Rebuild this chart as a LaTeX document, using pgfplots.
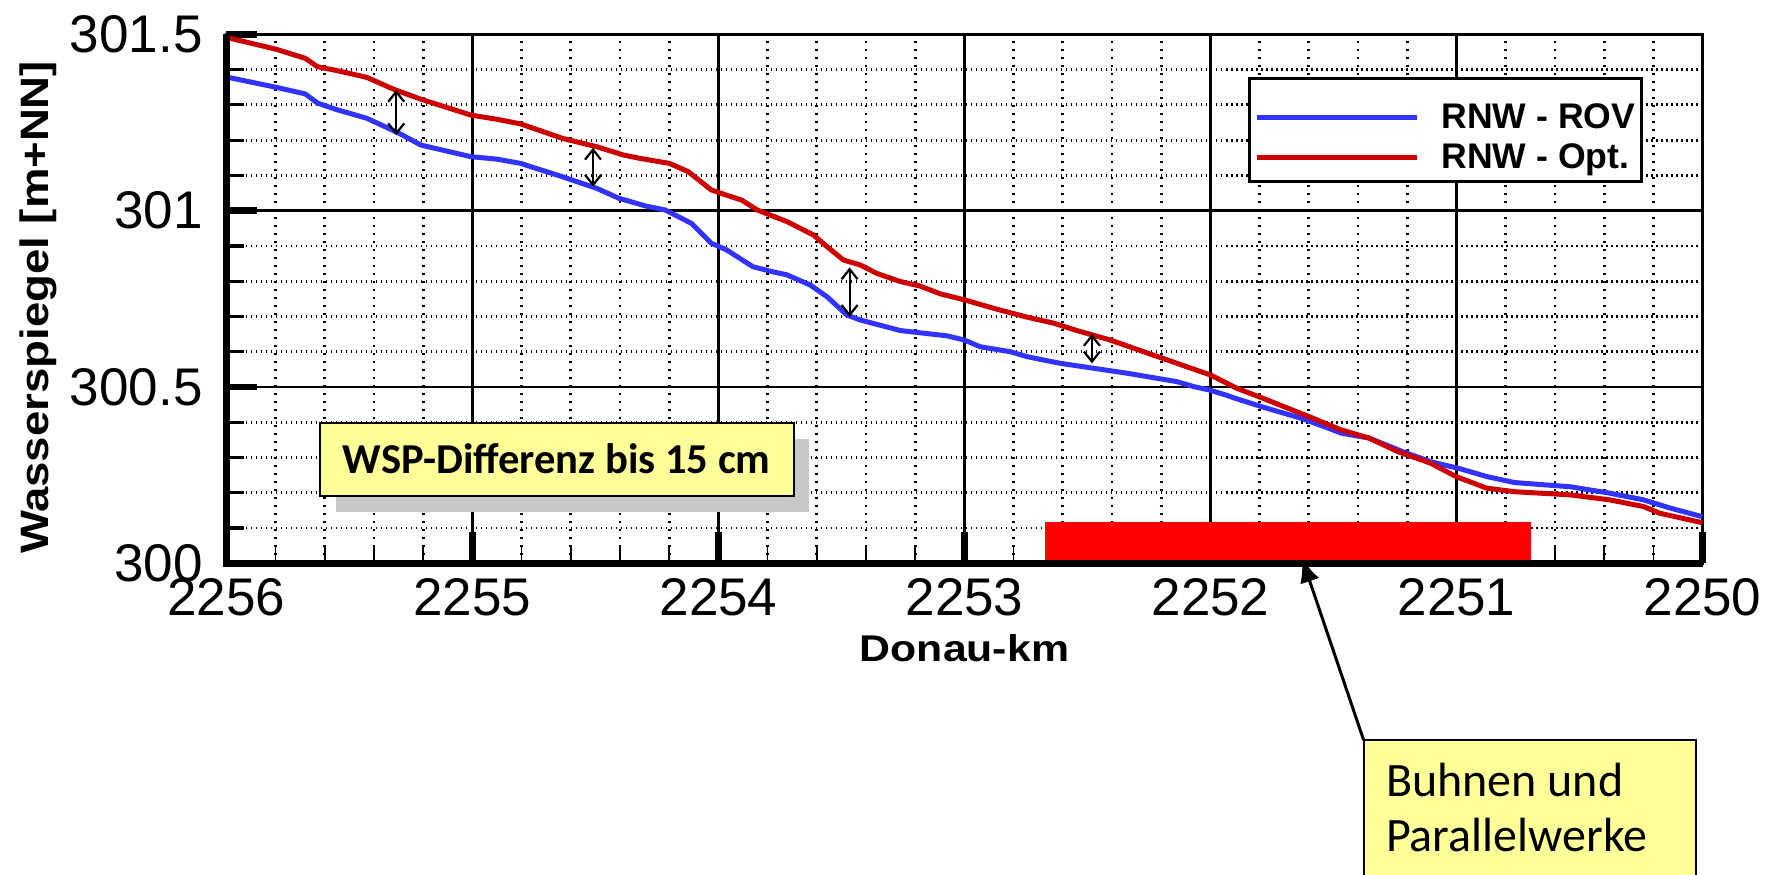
\documentclass[border=0pt]{standalone}
\usepackage{fontspec}
\setmainfont{Liberation Sans}
\newfontfamily\calibri{Carlito}
\newfontfamily\widebold[FakeStretch=1.15]{Liberation Sans Bold}
\usepackage{pgfplots}
\pgfplotsset{compat=1.18}
\usepackage{pgfplotstable}
\usetikzlibrary{arrows.meta}
\definecolor{rovblue}{RGB}{51,51,255}
\definecolor{optred}{RGB}{204,0,0}
\definecolor{noteyellow}{RGB}{255,255,153}
\definecolor{shadowgray}{RGB}{200,200,200}

\pgfplotstableread{
km val
2256.000 301.378
2255.987 301.377
2255.800 301.350
2255.680 301.331
2255.630 301.305
2255.550 301.286
2255.430 301.262
2255.300 301.220
2255.210 301.186
2255.007 301.153
2254.900 301.146
2254.805 301.134
2254.634 301.096
2254.494 301.063
2254.405 301.035
2254.295 301.013
2254.217 301.002
2254.110 300.964
2254.030 300.908
2253.968 300.889
2253.860 300.841
2253.782 300.827
2253.722 300.818
2253.627 300.789
2253.559 300.756
2253.478 300.704
2253.424 300.690
2253.261 300.660
2253.071 300.645
2253.000 300.633
2252.936 300.614
2252.814 300.600
2252.746 300.586
2252.610 300.567
2252.475 300.553
2252.339 300.539
2252.136 300.515
2252.068 300.501
2252.002 300.491
2251.932 300.476
2251.900 300.468
2251.787 300.443
2251.630 300.411
2251.536 300.387
2251.468 300.369
2251.355 300.355
2251.220 300.317
2251.105 300.288
2250.990 300.269
2250.877 300.246
2250.764 300.229
2250.537 300.217
2250.378 300.199
2250.240 300.180
2250.128 300.156
2250.000 300.132
}\rov

\pgfplotstableread{
km val
2256.000 301.492
2255.987 301.489
2255.800 301.458
2255.680 301.432
2255.630 301.408
2255.550 301.397
2255.430 301.378
2255.320 301.344
2255.210 301.316
2255.007 301.271
2254.900 301.259
2254.805 301.246
2254.634 301.205
2254.494 301.181
2254.388 301.158
2254.326 301.149
2254.200 301.134
2254.124 301.111
2254.030 301.059
2253.968 301.044
2253.906 301.030
2253.843 301.002
2253.722 300.969
2253.614 300.931
2253.559 300.898
2253.492 300.860
2253.424 300.846
2253.356 300.822
2253.261 300.799
2253.180 300.786
2253.098 300.764
2253.000 300.747
2252.881 300.723
2252.746 300.698
2252.638 300.681
2252.543 300.660
2252.407 300.633
2252.272 300.600
2252.136 300.567
2252.000 300.534
2251.892 300.496
2251.787 300.468
2251.582 300.411
2251.468 300.378
2251.355 300.355
2251.240 300.317
2251.105 300.284
2251.002 300.246
2250.877 300.213
2250.764 300.203
2250.537 300.194
2250.378 300.180
2250.240 300.161
2250.174 300.142
2250.000 300.115
}\opt

\begin{document}
\begin{tikzpicture}
\begin{axis}[
  at={(0pt,0pt)}, anchor=south west, scale only axis,
  width=738pt, height=264.5pt,
  xmin=2250, xmax=2256, x dir=reverse,
  ymin=300, ymax=301.5,
  xtick={2250,2251,2252,2253,2254,2255,2256},
  ytick={300,300.5,301,301.5},
  minor x tick num=4, minor y tick num=4,
  scaled ticks=false,
  /pgf/number format/1000 sep={},
  /pgf/number format/assume math mode=true,
  tick label style={font=\fontsize{26.5}{30}\selectfont, inner sep=0pt},
  xticklabel style={yshift=-7.5pt},
  yticklabel style={xshift=-11.75pt},
  tick pos=left, tick align=inside,
  major tick length=15.5pt, minor tick length=9pt,
  major tick style={line width=3.4pt, black},
  minor x tick style={line width=0.8pt, black},
  minor y tick style={line width=1.6pt, black},
  grid=both,
  major grid style={line width=1.15pt, black},
  minor x grid style={line width=1.4pt, black, dash pattern=on 1pt off 3pt},
  minor y grid style={line width=1.4pt, black, dash pattern=on 0.8pt off 1.7pt},
  axis line style={line width=1.5pt},
  xlabel={Donau-km},
  ylabel={Wasserspiegel [m+NN]},
  xlabel style={font=\widebold\fontsize{18.6}{22}\selectfont, at={(axis description cs:0.5,-0.186)}, anchor=base},
  ylabel style={font=\widebold\fontsize{19.8}{24}\selectfont, at={(axis description cs:-0.1207,0.4837)}, anchor=base},
  legend style={at={(axis description cs:0.6918,0.9198)}, anchor=north west,
    draw=black, line width=1.5pt, fill=white,
    inner xsep=3pt, inner ysep=6.3pt,
    font=\bfseries\fontsize{17.8}{20}\selectfont,
    row sep=1pt, column sep=11pt,
    nodes={inner sep=0pt, text height=19pt, text depth=0pt}},
  legend cell align=left,
  legend image code/.code={\draw[#1, line width=2.2pt] (0pt,-3.9pt) -- (80pt,-3.9pt);},
]
\addplot[rovblue, line width=2.5pt] table[x=km,y=val] {\rov};
\addlegendentry{RNW - ROV}
\addplot[optred, line width=2.5pt] table[x=km,y=val] {\opt};
\addlegendentry{RNW - Opt.}
\fill[red] (axis cs:2252.673,300) rectangle (axis cs:2250.697,300.118);
\draw[{Straight Barb[length=5pt,width=8pt]}-{Straight Barb[length=5pt,width=8pt]}, line width=1.1pt] (axis cs:2255.31,301.342) -- (axis cs:2255.31,301.214);
\draw[{Straight Barb[length=5pt,width=8pt]}-{Straight Barb[length=5pt,width=8pt]}, line width=1.1pt] (axis cs:2254.51,301.178) -- (axis cs:2254.51,301.068);
\draw[{Straight Barb[length=5pt,width=8pt]}-{Straight Barb[length=5pt,width=8pt]}, line width=1.1pt] (axis cs:2253.467,300.839) -- (axis cs:2253.467,300.699);
\draw[{Straight Barb[length=5pt,width=8pt]}-{Straight Barb[length=5pt,width=8pt]}, line width=1.1pt] (axis cs:2252.482,300.650) -- (axis cs:2252.482,300.567);
\end{axis}
\draw[line width=3.3pt] (0pt,264.5pt) -- (0pt,-1.6pt);
\draw[line width=3.3pt] (-1.6pt,0pt) -- (738pt,0pt);
\fill[shadowgray] (54.65pt,25.8pt) rectangle (291.45pt,62pt);
\draw[fill=noteyellow, line width=1pt] (46.65pt,33.8pt) rectangle (283.75pt,70.3pt);
\node[anchor=base, inner sep=0pt, font=\calibri\bfseries\fontsize{21.3}{25}\selectfont] at (165.15pt,45pt) {WSP-Differenz bis 15 cm};
\draw[line width=1.5pt, -{Latex[length=12pt,width=10pt]}] (568.55pt,-88.35pt) -- (537.75pt,2.5pt);
\draw[fill=noteyellow, line width=1pt] (568.55pt,-88.35pt) rectangle (734.75pt,-165pt);
\node[anchor=base west, inner sep=0pt, font=\calibri\fontsize{24}{28}\selectfont] at (579.6pt,-116.7pt) {Buhnen und};
\node[anchor=base west, inner sep=0pt, font=\calibri\fontsize{24}{28}\selectfont] at (579.6pt,-144.2pt) {Parallelwerke};
\pgfresetboundingbox
\path[use as bounding box] (-113.25pt,-155.35pt) rectangle (774.75pt,281.65pt);
\end{tikzpicture}
\end{document}
